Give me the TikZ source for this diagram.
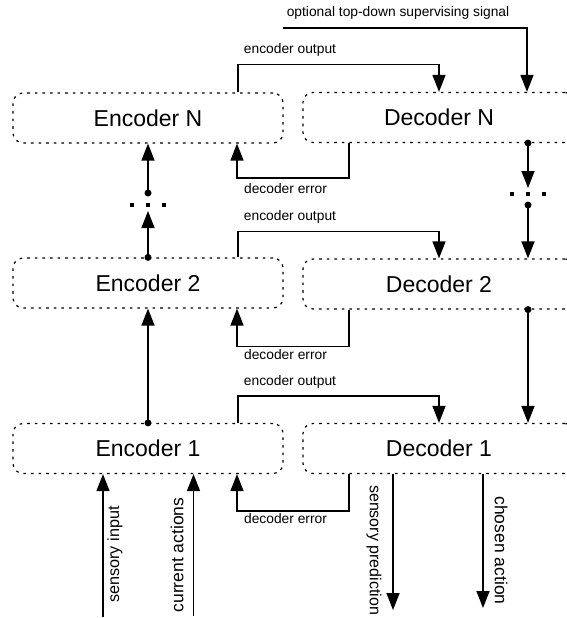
\documentclass[tikz,border=0pt]{standalone}
\usepackage{fontspec}
\setmainfont{Liberation Sans}
\usetikzlibrary{arrows.meta,calc}
\tikzset{
  box/.style={draw, line width=1.2pt, dash pattern=on 2.6pt off 5pt, rounded corners=10pt,
    minimum width=270pt, minimum height=50pt, inner sep=0pt, font=\fontsize{23}{27}\selectfont},
  arr/.style={line width=1.5pt, -{Triangle[width=13pt,length=17pt]}},
  lbl/.style={inner sep=0pt, font=\fontsize{13.8}{16}\selectfont},
  vlbl/.style={inner sep=0pt, font=\fontsize{17.5}{20}\selectfont},
  jdot/.style={circle, fill=black, inner sep=0pt, minimum size=7pt},
  sq/.style={fill=black, inner sep=0pt, minimum size=4.2pt},
}
\begin{document}
\begin{tikzpicture}[x=1pt,y=-1pt]
\path[use as bounding box, clip] (0,0) rectangle (567,618);
% boxes
\node[box] (eN) at (148,118) {Encoder N};
\node[box, minimum width=272pt] (dN) at (439,117.5) {Decoder N};
\node[box] (e2) at (148,283) {Encoder 2};
\node[box, minimum width=272pt] (d2) at (439,284) {Decoder 2};
\node[box] (e1) at (148,448.5) {Encoder 1};
\node[box, minimum width=272pt] (d1) at (439,448.5) {Decoder 1};

% top-down signal
\node[lbl] (ltd) at (398,12.5) {optional top-down supervising signal};
\coordinate (tdstart) at (283,28);
\draw[arr] (tdstart) -| ($(dN.north)+(88,0)$);

% encoder outputs
\node[lbl] (leoN) at (290,50) {encoder output};
\draw[arr] ($(eN.north)+(90,0)$) -- ++(0,-28) -| (dN.north);
\node[lbl] (leo2) at (290,217) {encoder output};
\draw[arr] ($(e2.north)+(90,0)$) -- ++(0,-26) -| (d2.north);
\node[lbl] (leo1) at (290,382) {encoder output};
\draw[arr] ($(e1.north)+(90,0)$) -- ++(0,-27) -| (d1.north);

% decoder errors
\node[lbl] (ldeN) at (285.5,189) {decoder error};
\draw[arr] ($(dN.south)+(-90,0)$) -- ++(0,35) -| ($(eN.south)+(89,0)$);
\node[lbl] (lde2) at (285.5,355) {decoder error};
\draw[arr] ($(d2.south)+(-90,0)$) -- ++(0,37) -| ($(e2.south)+(89,0)$);
\node[lbl] (lde1) at (285.5,519) {decoder error};
\draw[arr] ($(d1.south)+(-90,0)$) -- ++(0,37) -| ($(e1.south)+(89,0)$);

% encoder column
\node[jdot] (edN) at (148,193) {};
\draw[arr] (edN.center) -- (eN.south);
\node[sq] (es1) at (132,205) {};
\node[sq] (es2) at (148,205) {};
\node[sq] (es3) at (164,205) {};
\node[jdot] (ed2) at (e2.north) {};
\coordinate (et2) at (148,211);
\draw[arr] (ed2.center) -- (et2);
\node[jdot] (ed1) at (e1.north) {};
\draw[arr] (ed1.center) -- (e2.south);

% decoder column
\node[jdot] (ddN) at ($(dN.south)+(89,0)$) {};
\coordinate (dtN) at (528,188);
\draw[arr] (ddN.center) -- (dtN);
\node[sq] (ds1) at (512,194) {};
\node[sq] (ds2) at (528,194) {};
\node[sq] (ds3) at (544,194) {};
\node[jdot] (dd2a) at (528,205) {};
\draw[arr] (dd2a.center) -- ($(d2.north)+(89,0)$);
\node[jdot] (dd2) at ($(d2.south)+(89,0)$) {};
\draw[arr] (dd2.center) -- ($(d1.north)+(89,0)$);

% bottom inputs / outputs
\coordinate (bsi) at (103,617);
\coordinate (bca) at (193.5,616);
\coordinate (bsp) at (393,610);
\coordinate (bch) at (483,608);
\draw[arr] (bsi) -- ($(e1.south)+(-45,0)$);
\draw[arr] (bca) -- ($(e1.south)+(45.5,0)$);
\draw[arr] ($(d1.south)+(-46,0)$) -- (bsp);
\draw[arr] ($(d1.south)+(44,0)$) -- (bch);
\node[vlbl, rotate=90, font=\fontsize{16.2}{19}\selectfont] (lsi) at (115,554.5) {sensory input};
\node[vlbl, rotate=90] (lca) at (177,555) {current actions};
\node[vlbl, rotate=-90, anchor=west, font=\fontsize{16}{19}\selectfont] (lsp) at (374,485) {sensory prediction};
\node[vlbl, rotate=-90] (lch) at (501,550.5) {chosen action};
\end{tikzpicture}
\end{document}
